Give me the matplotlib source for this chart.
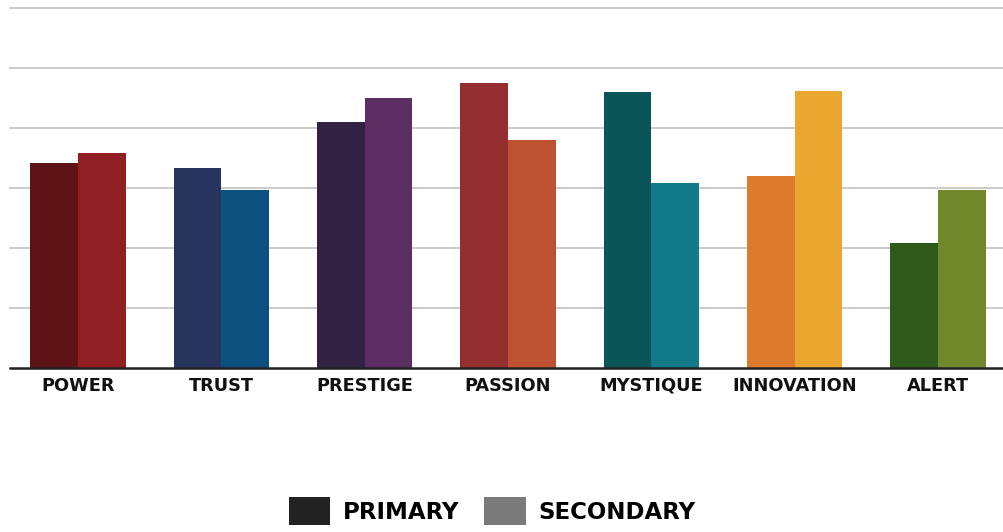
import matplotlib
matplotlib.use("Agg")
import matplotlib.pyplot as plt
import numpy as np
from matplotlib.patches import Patch

# ------------- Data ------------- #
categories = ["POWER", "TRUST", "PRESTIGE", "PASSION", "MYSTIQUE", "INNOVATION", "ALERT"]
primary = [34.2, 33.3, 41.0, 47.5, 46.0, 32.0, 20.8]
secondary = [35.8, 29.7, 45.0, 38.0, 30.8, 46.2, 29.7]

primary_colors = ["#5e1317", "#27345e", "#312244", "#952e2e", "#095557", "#dd7b2d", "#2d5a1b"]
secondary_colors = ["#901e23", "#0c5080", "#5c2e64", "#bd5130", "#137a8a", "#eaa62f", "#70882b"]

legend_labels = ["PRIMARY", "SECONDARY"]
legend_colors = ["#222222", "#7a7a7a"]

FONT = "DejaVu Sans"

# ------------- Plot ------------- #
W, H = 1004, 532
fig = plt.figure(figsize=(W / 100, H / 100), dpi=100)
ax = fig.add_axes([10 / W, (H - 368) / H, (W - 10) / W, 360 / H])

x = np.arange(len(categories))
bw = 0.332
ax.bar(x - bw / 2, primary, width=bw, color=primary_colors, zorder=3, linewidth=0)
ax.bar(x + bw / 2, secondary, width=bw, color=secondary_colors, zorder=3, linewidth=0)

ax.set_xlim(-0.475, 6.46)
ax.set_ylim(0, 60)
ax.set_yticks(np.arange(10, 61, 10))
ax.yaxis.grid(True, color="#bdbdbd", linewidth=1.1, zorder=0)
for gl in ax.get_ygridlines():
    gl.set_clip_on(False)
ax.tick_params(axis="y", left=False, labelleft=False)
ax.tick_params(axis="x", bottom=False, length=0, pad=16.5)

for s in ["top", "right", "left"]:
    ax.spines[s].set_visible(False)
ax.spines["bottom"].set_color("#222222")
ax.spines["bottom"].set_linewidth(1.8)
ax.spines["bottom"].set_zorder(4)

ax.set_xticks(x)
ax.set_xticklabels(categories, fontsize=12.8, fontweight="bold", family=FONT, color="#111111")
for lab in ax.get_xticklabels():
    lab.set_va("baseline")

handles = [Patch(facecolor=c, edgecolor="none", label=l) for c, l in zip(legend_colors, legend_labels)]
fig.legend(handles=handles, loc="center", bbox_to_anchor=(492 / W, 1 - 511 / H), ncol=2,
           frameon=False, prop={"family": FONT, "weight": "bold", "size": 16.5},
           handlelength=1.8, handleheight=1.55, handletextpad=0.55, columnspacing=1.1,
           borderpad=0, borderaxespad=0)

fig.savefig("out.png", dpi=100, facecolor="white")
